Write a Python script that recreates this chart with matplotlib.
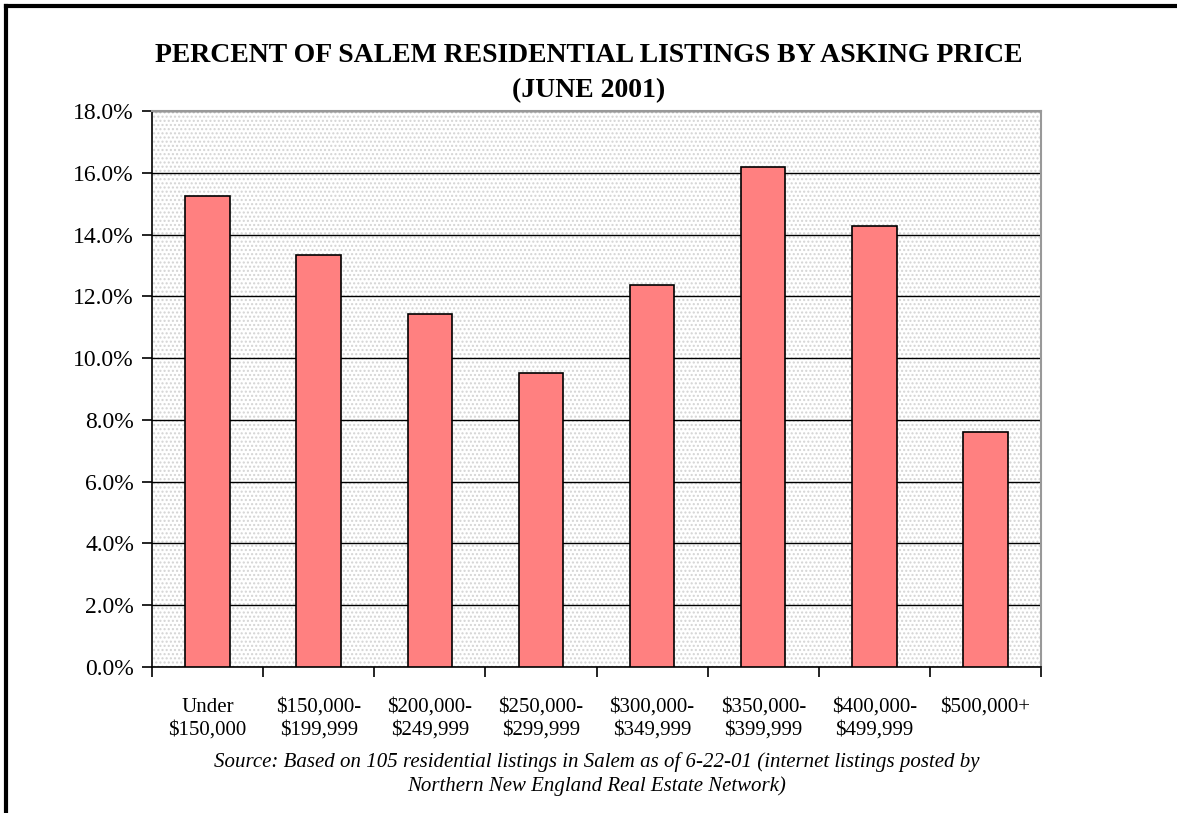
import numpy as np
import matplotlib
matplotlib.use("Agg")
import matplotlib.pyplot as plt
from matplotlib.lines import Line2D

# price bands and share of listings (105 listings total)
categories = ["Under\n$150,000", "$150,000-\n$199,999", "$200,000-\n$249,999",
              "$250,000-\n$299,999", "$300,000-\n$349,999", "$350,000-\n$399,999",
              "$400,000-\n$499,999", "$500,000+"]
percent = [15.24, 13.33, 11.43, 9.52, 12.38, 16.19, 14.29, 7.62]
yticks = [0, 2, 4, 6, 8, 10, 12, 14, 16, 18]

title = "PERCENT OF SALEM RESIDENTIAL LISTINGS BY ASKING PRICE\n(JUNE 2001)"
source = ("Source: Based on 105 residential listings in Salem as of 6-22-01 (internet listings posted by\n"
          "Northern New England Real Estate Network)")

plt.rcParams['font.family'] = ['Liberation Serif', 'DejaVu Serif']

fig = plt.figure(figsize=(11.77, 8.13), dpi=100)
ax = fig.add_axes([152/1177, 1-667/813, 889/1177, 556/813])

# dotted grey plot area
ax.set_facecolor('white')
ax.patch.set_hatch('....')
ax.patch.set_edgecolor('#d4d4d4')
ax.patch.set_linewidth(0)

x = np.arange(len(categories))
ax.set_axisbelow(True)
ax.yaxis.grid(True, color='black', linewidth=1)
ax.bar(x, percent, width=0.4, color='#ff8080', edgecolor='black', linewidth=1.2, zorder=3)

ax.set_xlim(-0.5, len(categories) - 0.5)
ax.set_ylim(0, 18)
ax.set_yticks(yticks)
ax.set_yticklabels(["%.1f%%" % v for v in yticks], fontsize=17)

# category labels centred, ticks on boundaries
ax.set_xticks(x)
ax.set_xticklabels(categories, fontsize=15, linespacing=1.3)
ax.tick_params(axis='x', which='major', length=0, pad=22)
ax.set_xticks(np.arange(-0.5, len(categories)), minor=True)
ax.tick_params(axis='x', which='minor', length=7, width=1.2, direction='out')
ax.tick_params(axis='y', length=7, width=1.2, direction='out', pad=6)

for s in ['left', 'bottom']:
    ax.spines[s].set_color('black')
    ax.spines[s].set_linewidth(1.2)
for s in ['top', 'right']:
    ax.spines[s].set_color('#999999')
    ax.spines[s].set_linewidth(1.5)

fig.text(0.5, 1-73/813, title, ha='center', va='center', fontsize=20,
         fontweight='bold', linespacing=1.5)
fig.text(597/1177, 1-774/813, source, ha='center', va='center', fontsize=15,
         style='italic', linespacing=1.35)

# frame on left and top
fig.add_artist(Line2D([6/1177, 6/1177], [0, 1-6/813], color='black', linewidth=3,
                      transform=fig.transFigure))
fig.add_artist(Line2D([6/1177, 1], [1-6/813, 1-6/813], color='black', linewidth=3,
                      transform=fig.transFigure))

fig.savefig("out.png", dpi=100)
